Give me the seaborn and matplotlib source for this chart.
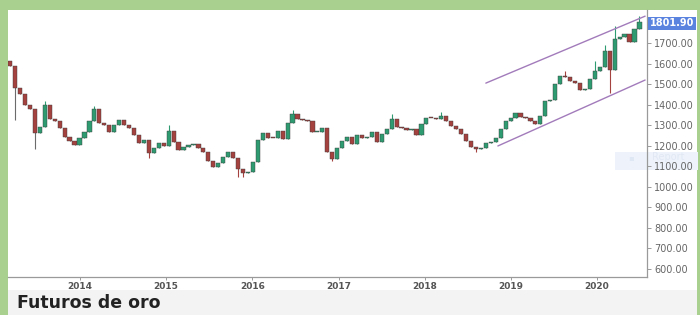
"""Futuros de oro: velas de 3 semanas con canal alcista (recreación)."""

import matplotlib

matplotlib.use("Agg")
import matplotlib.dates as mdates
import matplotlib.pyplot as plt
import pandas as pd
import seaborn as sns
from matplotlib.patches import Rectangle

# --- datos ---
START = "2013-03-11"
closes = [
    1590, 1480, 1450, 1400, 1380, 1260, 1290, 1397, 1330, 1320,
    1285, 1245, 1222, 1205, 1237, 1266, 1320, 1378, 1310, 1300,
    1265, 1300, 1325, 1302, 1285, 1250, 1212, 1228, 1165, 1190,
    1215, 1200, 1270, 1220, 1180, 1195, 1203, 1210, 1188, 1170,
    1125, 1095, 1118, 1145, 1168, 1140, 1085, 1066, 1070, 1120,
    1230, 1262, 1240, 1237, 1270, 1235, 1310, 1355, 1332, 1325,
    1322, 1266, 1268, 1285, 1170, 1135, 1190, 1222, 1245, 1210,
    1250, 1240, 1245, 1266, 1218, 1255, 1282, 1330, 1292, 1285,
    1278, 1282, 1250, 1305, 1334, 1333, 1328, 1345, 1320, 1298,
    1280, 1255, 1225, 1195, 1182, 1190, 1215, 1220, 1240, 1280,
    1322, 1335, 1360, 1340, 1333, 1322, 1305, 1345, 1420, 1425,
    1500, 1540, 1535, 1515, 1508, 1470, 1475, 1525, 1565, 1582,
    1660, 1570, 1720, 1730, 1745, 1705, 1770, 1802,
]
first_open = 1612
wick_lows = {1: 1325, 5: 1185, 28: 1140, 46: 1050, 47: 1046, 65: 1125,
             94: 1170, 121: 1455}
wick_highs = {7: 1420, 17: 1392, 32: 1300, 57: 1375, 77: 1355, 87: 1365,
              112: 1565, 118: 1615, 120: 1690, 122: 1785, 127: 1830}

upper_dates = ["2018-09-17", "2020-07-23"]
upper_prices = [1505, 1831]
lower_dates = ["2018-11-07", "2020-07-23"]
lower_prices = [1199, 1520]

y_ticks = [600, 700, 800, 900, 1000, 1100, 1200, 1300, 1400, 1500, 1600, 1700]
years = [2014, 2015, 2016, 2017, 2018, 2019, 2020]
last_label = "1801.90"
caption = "Futuros de oro"

W, H = 700, 315
GREEN = "#a9d08e"
UP = "#2e9b70"
DOWN = "#a4423f"
CHANNEL = "#a27bbb"


def fx(x):
    return x / W


def fy(y):
    return 1 - y / H


def main():
    sns.set_theme(style="white")
    plt.rcParams["font.family"] = ["DejaVu Sans"]

    dates = pd.date_range(START, periods=len(closes), freq="21D")
    df = pd.DataFrame({"date": dates, "close": closes})
    df["open"] = [first_open] + closes[:-1]
    df["x"] = mdates.date2num(df["date"])

    fig = plt.figure(figsize=(W / 100, H / 100), dpi=100, facecolor=GREEN)

    # fondos: zona blanca del gráfico y banda gris del título
    fig.add_artist(Rectangle((fx(8), fy(290)), fx(689), 280 / H, transform=fig.transFigure,
                             facecolor="white", edgecolor="none", zorder=-2))
    fig.add_artist(Rectangle((fx(8), 0), fx(689), 25 / H, transform=fig.transFigure,
                             facecolor="#f3f3f3", edgecolor="none", zorder=-2))
    # botón "Report" casi invisible
    fig.add_artist(Rectangle((fx(615), fy(170)), fx(83), 18 / H, transform=fig.transFigure,
                             facecolor="#eef3fb", edgecolor="none", zorder=-1))
    fig.text(fx(628), fy(158), "▪", color="#dfe7f4", fontsize=6, va="center", zorder=-1)
    fig.text(fx(652), fy(157), "Report", color="#e1e8f4", fontsize=7, va="center", zorder=-1)

    ax = fig.add_axes([fx(8), fy(277), fx(639), 267 / H])
    ax.patch.set_alpha(0)

    # velas
    width = 21 * 0.85
    for i, row in df.iterrows():
        o, c = row["open"], row["close"]
        col = UP if c >= o else DOWN
        lo = wick_lows.get(i, min(o, c))
        hi = wick_highs.get(i, max(o, c))
        ax.vlines(row["x"], lo, hi, color="#6b6b6b" if i in (1, 5) else col, linewidth=0.8, zorder=2)
        ax.bar(row["x"], max(abs(c - o), 5), bottom=min(o, c), width=width,
               color=col, edgecolor="#3d3d3d", linewidth=0.3, zorder=3)

    # canal alcista
    for d, p in ((upper_dates, upper_prices), (lower_dates, lower_prices)):
        sns.lineplot(x=mdates.date2num(pd.to_datetime(d)), y=p, ax=ax,
                     color=CHANNEL, linewidth=1.0, zorder=4)

    ax.set_xlim(mdates.date2num(pd.Timestamp("2013-03-02")),
                mdates.date2num(pd.Timestamp("2020-07-31")))
    ax.set_ylim(561, 1861)

    ax.yaxis.tick_right()
    ax.set_yticks(y_ticks)
    ax.set_yticklabels([f"{v:.2f}" for v in y_ticks])
    ax.set_xticks(mdates.date2num([pd.Timestamp(f"{y}-01-01") for y in years]))
    ax.set_xticklabels([str(y) for y in years], fontweight="bold")
    ax.tick_params(axis="y", which="both", right=True, left=False, length=3, width=0.7,
                   color="#9a9a9a", labelsize=7, labelcolor="#666666", pad=2)
    ax.tick_params(axis="x", bottom=True, length=2, width=0.7, color="#9a9a9a",
                   labelsize=6.5, labelcolor="#555555", pad=1.5)
    for side in ("left", "top"):
        ax.spines[side].set_visible(False)
    for side in ("right", "bottom"):
        ax.spines[side].set_color("#9a9a9a")
        ax.spines[side].set_linewidth(0.9)
    ax.set_xlabel("")
    ax.set_ylabel("")
    ax.grid(False)

    # etiqueta del último precio
    fig.add_artist(Rectangle((fx(648), fy(30)), fx(48), 13 / H, transform=fig.transFigure,
                             facecolor="#5a83e0", edgecolor="none", zorder=5))
    fig.text(fx(672), fy(23.5), last_label, color="white", fontsize=7, fontweight="bold",
             ha="center", va="center", zorder=6)

    fig.text(fx(17), fy(303.5), caption, color="#222222", fontsize=12.5, fontweight="bold",
             ha="left", va="center")

    fig.savefig("out.png", dpi=100, facecolor=GREEN)
    plt.close(fig)


if __name__ == "__main__":
    main()
